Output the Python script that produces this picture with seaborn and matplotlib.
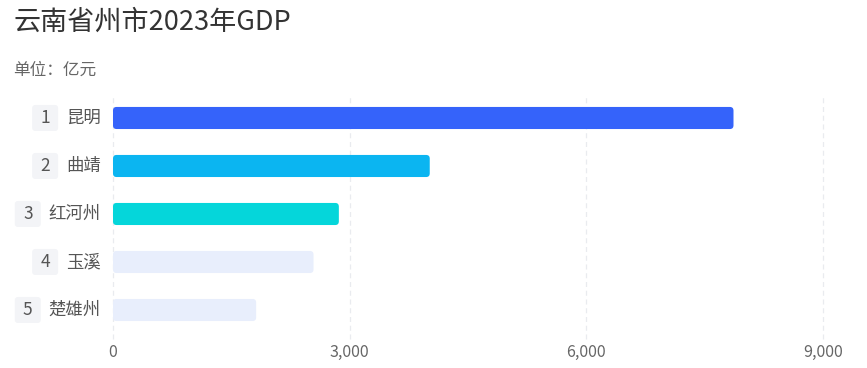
import matplotlib
matplotlib.use('Agg')
import matplotlib.pyplot as plt
import seaborn as sns
import pandas as pd
from matplotlib.patches import FancyBboxPatch
from matplotlib.transforms import blended_transform_factory, IdentityTransform

cities = ['昆明', '曲靖', '红河州', '玉溪', '楚雄州']
ranks = ['1', '2', '3', '4', '5']
gdp = [7865, 4015, 2863, 2542, 1815]
bar_colors = ['#3563FA', '#0BB5F1', '#05D6DA', '#E8EEFC', '#E8EEFC']
xticks = [0, 3000, 6000, 9000]

sns.set_theme(style='white')
plt.rcParams['font.family'] = ['Noto Sans CJK SC', 'DejaVu Sans']

df = pd.DataFrame({'city': cities, 'gdp': gdp})

fig = plt.figure(figsize=(8.67, 3.68), dpi=100)
ax = fig.add_axes([0.1303, 0.0924, 0.819, 0.6522])

sns.barplot(data=df, x='gdp', y='city', hue='city', palette=bar_colors,
            legend=False, width=0.46, ax=ax, saturation=1)

# swap the square bars for rounded ones
for p in list(ax.patches):
    x0, y0 = p.get_x(), p.get_y()
    w, h = p.get_width(), p.get_height()
    fb = FancyBboxPatch((x0, y0), w, h,
                        boxstyle='round,pad=0,rounding_size=45',
                        mutation_aspect=0.0017,
                        facecolor=p.get_facecolor(), edgecolor='none')
    p.remove()
    ax.add_patch(fb)

ax.set_xlim(0, 9000)
ax.set_ylim(4.5, -0.5)
ax.set_xticks(xticks)
ax.set_xticklabels(['{:,}'.format(v) for v in xticks], fontsize=11.5, color='#666666')
ax.tick_params(axis='x', length=0, pad=7)
ax.set_yticks([])
ax.set_xlabel('')
ax.set_ylabel('')
for s in ax.spines.values():
    s.set_visible(False)

for v in xticks:
    ax.axvline(v, ymin=-0.02, ymax=1.0, color='#E9EBEF', linestyle=(0, (4, 3)),
               linewidth=0.9, zorder=0, clip_on=False)

# rank badges and city names on the left
trans = blended_transform_factory(ax.transAxes, ax.transData)
fig.canvas.draw()
renderer = fig.canvas.get_renderer()
for i, (r, c) in enumerate(zip(ranks, cities)):
    t = ax.text(-0.017, i, c, transform=trans, ha='right', va='center',
                fontsize=12.5, color='#555555')
    bb = t.get_window_extent(renderer)
    cx = bb.x0 - 21
    cy = ax.transData.transform((0, i))[1]
    badge = FancyBboxPatch((cx - 13, cy - 13), 26, 26,
                           boxstyle='round,pad=0,rounding_size=3',
                           transform=IdentityTransform(), clip_on=False,
                           facecolor='#F3F4F7', edgecolor='none', zorder=3)
    ax.add_artist(badge)
    xnum = ax.transAxes.inverted().transform((cx, 0))[0]
    ax.text(xnum, i, r, transform=trans, ha='center', va='center',
            fontsize=12.5, color='#555555', zorder=5)

fig.text(0.015, 0.94, '云南省州市2023年GDP', fontsize=19.5, color='#333333',
         ha='left', va='center')
fig.text(0.015, 0.81, '单位：亿元', fontsize=12, color='#666666',
         ha='left', va='center')

plt.savefig('out.png', dpi=100)
plt.close()
